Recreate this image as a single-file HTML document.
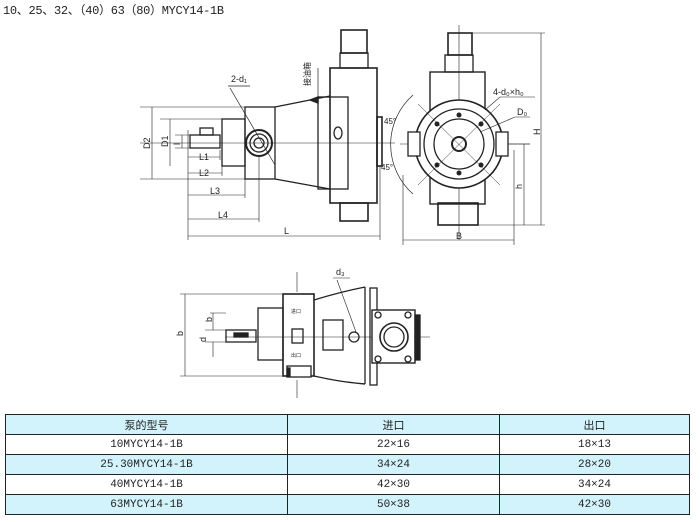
<!DOCTYPE html>
<html><head><meta charset="utf-8"><style>
body{margin:0;width:700px;height:522px;background:#fff;overflow:hidden;position:relative;font-family:"Liberation Serif","Noto Serif CJK SC",serif}
.t{position:absolute;left:3px;top:1px;font-size:12px;color:#222;font-family:"Liberation Mono","Noto Sans CJK SC",monospace;letter-spacing:-0.3px}
table{position:absolute;left:5px;top:414px;width:685px;border-collapse:collapse;font-size:11px;font-family:"Liberation Mono","Noto Sans CJK SC",monospace;color:#222}
td{border:1px solid #222;text-align:center;height:19px;padding:0}
.b td{background:#d2f3fb}
svg{position:absolute;left:0;top:0}
</style></head><body>
<div class="t">10、25、32、（40）63（80）MYCY14-1B</div>
<svg width="700" height="410" viewBox="0 0 700 410" fill="none" stroke="#222" stroke-width="1.3" font-family="Liberation Sans,sans-serif" font-size="9">
<!-- left view -->
<g>
<line x1="140" y1="143" x2="395" y2="143" stroke-width="0.6"/>
<rect x="190" y="135" width="30" height="13"/><rect x="200" y="128" width="13" height="7"/>
<rect x="222" y="119" width="23" height="47"/>
<rect x="245" y="107" width="30" height="72"/>
<circle cx="259" cy="143" r="13" stroke-width="2"/><circle cx="259" cy="143" r="9"/><circle cx="259" cy="143" r="5"/>
<path d="M275 107 L330 96 M275 179 L330 189"/>
<rect x="318" y="97" width="30" height="92"/>
<rect x="330" y="68" width="47" height="135" stroke-width="1.6"/>
<rect x="341" y="30" width="26" height="23" stroke-width="1.6"/><rect x="340" y="53" width="28" height="15"/>
<rect x="340" y="203" width="28" height="18" stroke-width="1.6"/>
<rect x="377" y="117" width="5" height="49" stroke-width="1.6"/>
<ellipse cx="338" cy="133" rx="4" ry="6"/>
<path d="M310 100 l8 -3 l0 6z" fill="#222"/>
<path d="M140 107 H245 M160 119 H222 M175 135 H190 M175 148 H190 M140 179 H275" stroke-width="0.6"/>
<path d="M152 107 V179 M170 119 V166 M182 135 V148" stroke-width="0.6"/>
<path d="M188 130 V240 M220 150 V160 M222 166 V176 M245 179 V198 M259 156 V222 M380 166 V240" stroke-width="0.6"/>
<path d="M188 157 H220 M188 173 H222 M188 195 H245 M188 219 H259 M188 236 H380" stroke-width="0.6"/>
<line x1="230" y1="88" x2="275" y2="165" stroke-width="0.7"/><line x1="228" y1="86" x2="250" y2="86" stroke-width="0.7"/>
<line x1="318" y1="100" x2="318" y2="68" stroke-width="0.7"/>
<g fill="#222" stroke="none">
<text x="231" y="82">2-d₁</text>
<text x="199" y="160">L1</text><text x="199" y="176">L2</text><text x="210" y="194">L3</text><text x="218" y="218">L4</text><text x="284" y="234">L</text>
<text transform="translate(150 149) rotate(-90)">D2</text><text transform="translate(168 147) rotate(-90)">D1</text><text transform="translate(180 145) rotate(-90)">l</text>
<g font-size="8" font-family="Noto Sans CJK SC,sans-serif" transform="translate(310 56) rotate(-90)"><text x="-30" y="0">接油箱</text></g>
<text x="384" y="124" font-size="8">45°</text><text x="381" y="170" font-size="8">45°</text>
</g>
</g>
<!-- right view -->
<g>
<line x1="459" y1="25" x2="459" y2="240" stroke-width="0.6"/>
<line x1="400" y1="144" x2="530" y2="144" stroke-width="0.6"/>
<rect x="448" y="33" width="24" height="22" stroke-width="1.6"/><rect x="445" y="55" width="28" height="17"/>
<rect x="430" y="72" width="55" height="132" stroke-width="1.4"/>
<circle cx="459" cy="144" r="44" fill="#fff" stroke-width="1.6"/>
<circle cx="459" cy="144" r="35"/><circle cx="459" cy="144" r="25"/><circle cx="459" cy="144" r="7" stroke-width="2"/>
<rect x="408" y="132" width="12" height="24" fill="#fff"/><rect x="496" y="132" width="12" height="24" fill="#fff"/>
<rect x="438" y="203" width="40" height="22" stroke-width="1.6"/>
<g fill="#222" stroke="none"><circle cx="459" cy="115" r="2.5"/><circle cx="459" cy="173" r="2.5"/><circle cx="437" cy="124" r="2.5"/><circle cx="481" cy="124" r="2.5"/><circle cx="437" cy="165" r="2.5"/><circle cx="481" cy="165" r="2.5"/></g>
<path d="M418 104 L500 185 M418 185 L500 104" stroke-width="0.5"/>
<path d="M413 95 A66 66 0 0 0 413 194" stroke-width="0.7"/>
<path d="M472 33 H545 M478 225 H545 M508 144 H530 M403 175 V245 M514 150 V245" stroke-width="0.6"/>
<path d="M541 33 V225 M524 144 V225 M403 240 H514" stroke-width="0.6"/>
<path d="M485 110 L500 97 H535 M480 132 L515 117 H530" stroke-width="0.6"/>
<g fill="#222" stroke="none"><text x="493" y="95">4-d₀×h₀</text><text x="517" y="115">D₀</text>
<text x="456" y="239">B</text><text transform="translate(540 135) rotate(-90)">H</text><text transform="translate(522 189) rotate(-90)">h</text></g>
</g>
<!-- bottom view -->
<g>
<line x1="225" y1="337" x2="430" y2="337" stroke-width="0.6"/>
<rect x="226" y="330" width="30" height="12"/><rect x="234" y="333" width="14" height="4" fill="#222"/>
<rect x="258" y="308" width="25" height="52"/>
<rect x="283" y="294" width="31" height="82" stroke-width="1.6"/>
<rect x="292" y="329" width="11" height="14"/>
<rect x="287" y="366" width="24" height="11" fill="#fff"/><rect x="287" y="368" width="3" height="8" fill="#222"/>
<path d="M314 300 Q340 292 365 287 M314 376 Q340 382 365 384" stroke-width="1.4"/>
<rect x="323" y="320" width="20" height="30"/>
<line x1="365" y1="287" x2="365" y2="384"/>
<circle cx="354" cy="337" r="5"/>
<rect x="370" y="288" width="7" height="97"/>
<rect x="372" y="310" width="43" height="53" fill="#fff" stroke-width="1.4"/>
<circle cx="394" cy="337" r="14" stroke-width="1.6"/><circle cx="394" cy="337" r="10"/>
<circle cx="378" cy="315" r="3"/><circle cx="408" cy="315" r="3"/><circle cx="378" cy="359" r="3"/><circle cx="408" cy="359" r="3"/>
<rect x="415" y="315" width="5" height="45" fill="#222"/>
<path d="M180 294 H283 M180 376 H283 M205 330 H226 M205 342 H226 M210 313 H226" stroke-width="0.6"/>
<path d="M185 294 V376 M213 313 V330 M213 342 V357 M297 272 V292 M297 380 V398" stroke-width="0.6"/>
<path d="M333 278 H350 M337 280 L356 332" stroke-width="0.6"/>
<g fill="#222" stroke="none"><text x="336" y="275">d₃</text>
<text transform="translate(183 336) rotate(-90)">b</text><text transform="translate(212 322) rotate(-90)">b</text><text transform="translate(206 342) rotate(-90)">d</text>
<text x="291" y="313" font-size="5" font-family="Noto Sans CJK SC,sans-serif">进口</text><text x="291" y="357" font-size="5" font-family="Noto Sans CJK SC,sans-serif">出口</text></g>
</g>
</svg>
<table>
<tr class="b"><td style="width:281px">泵的型号</td><td style="width:211px">进口</td><td>出口</td></tr>
<tr><td>10MYCY14-1B</td><td>22×16</td><td>18×13</td></tr>
<tr class="b"><td>25.30MYCY14-1B</td><td>34×24</td><td>28×20</td></tr>
<tr><td>40MYCY14-1B</td><td>42×30</td><td>34×24</td></tr>
<tr class="b"><td>63MYCY14-1B</td><td>50×38</td><td>42×30</td></tr>
</table>
</body></html>
